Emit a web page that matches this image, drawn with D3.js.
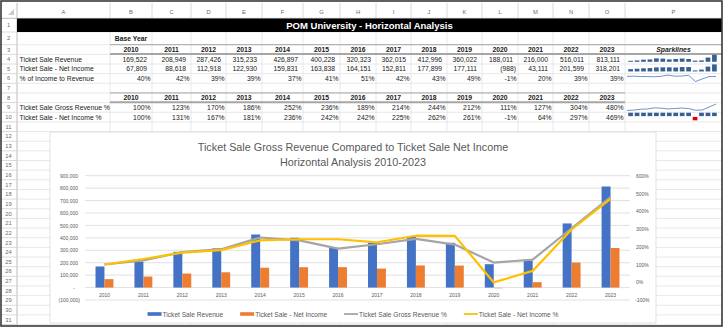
<!DOCTYPE html>
<html><head><meta charset="utf-8">
<script src="https://cdn.jsdelivr.net/npm/d3@7"></script>
<style>
html,body{margin:0;padding:0;background:#fff;}
svg{display:block;font-family:"Liberation Sans",Arial,sans-serif;}
</style></head><body>
<svg id="c" width="724" height="329"></svg>
<script>
// ---------------- DATA ----------------
const years = [2010,2011,2012,2013,2014,2015,2016,2017,2018,2019,2020,2021,2022,2023];
const revenue = [169522,208949,287426,315233,426897,400228,320323,362015,412996,360022,188011,216000,516011,813111];
const netIncome = [67809,88618,112918,122930,159831,163838,164151,152811,177899,177111,-988,43111,201599,318201];
const incomeToRevenuePct = [40,42,39,39,37,41,51,42,43,49,-1,20,39,39];
const grossRevenuePct = [100,123,170,186,252,236,189,214,244,212,111,127,304,480];
const netIncomePct = [100,131,167,181,236,242,242,225,262,261,-1,64,297,469];
const leftTicks = [-100000,0,100000,200000,300000,400000,500000,600000,700000,800000,900000];
const rightTicks = [-100,0,100,200,300,400,500,600];
const columnLetters = ["A","B","C","D","E","F","G","H","I","J","K","L","M","N","O","P"];
const rowLabels = ["Ticket Sale Revenue","Ticket Sale - Net Income","% of Income to Revenue","Ticket Sale Gross Revenue %","Ticket Sale - Net Income %"];
const sheetTitle = "POM University - Horizontal Analysis";
const baseYearLabel = "Base Year";
const sparkHeader = "Sparklines";
const chartTitle = ["Ticket Sale Gross Revenue Compared to Ticket Sale Net Income","Horizontal Analysis 2010-2023"];
const seriesNames = ["Ticket Sale Revenue","Ticket Sale - Net Income","Ticket Sale Gross Revenue %","Ticket Sale - Net Income %"];

// ---------------- LAYOUT ----------------
const W = 724, H = 329;
const svg = d3.select("#c");
svg.append("rect").attr("width", W).attr("height", H).attr("fill", "#fff");

const colEdges = [17,110,152,191,226,262,303,340,376,411,447,482,518,553,589,625,722];
const rowTop = r => r === 1 ? 18.5 : r === 2 ? 32 : 44.7 + (r - 3) * 9.65;
const rowMid = r => (rowTop(r) + rowTop(r + 1)) / 2;
const colL = i => colEdges[i], colR = i => colEdges[i + 1], colMid = i => (colEdges[i] + colEdges[i + 1]) / 2;

// sheet grid
const grid = svg.append("g").attr("stroke", "#e2e2e2").attr("stroke-width", 0.8);
for (let r = 2; r <= 32; r++) {
  grid.append("line").attr("x1", 17).attr("x2", 722).attr("y1", rowTop(r)).attr("y2", rowTop(r));
}
colEdges.slice(1).forEach(x => grid.append("line").attr("x1", x).attr("x2", x).attr("y1", 32).attr("y2", 326));

// headers
const hdr = svg.append("g");
hdr.append("line").attr("x1", 0).attr("x2", 722).attr("y1", 18.3).attr("y2", 18.3).attr("stroke", "#bdbdbd");
hdr.append("line").attr("x1", 17).attr("x2", 17).attr("y1", 3).attr("y2", 326).attr("stroke", "#bdbdbd");
colEdges.slice(1).forEach(x => hdr.append("line").attr("x1", x).attr("x2", x).attr("y1", 3).attr("y2", 18).attr("stroke", "#dadada"));
for (let r = 2; r <= 32; r++) hdr.append("line").attr("x1", 0).attr("x2", 17).attr("y1", rowTop(r)).attr("y2", rowTop(r)).attr("stroke", "#dadada");
hdr.append("path").attr("d", "M14,9 L14,15 L8,15 Z").attr("fill", "#c8c8c8");
hdr.selectAll("text.col").data(columnLetters).join("text")
  .attr("x", (d, i) => colMid(i)).attr("y", 11.5).attr("text-anchor", "middle").attr("dominant-baseline", "central")
  .attr("font-size", 5.8).attr("fill", "#6b6b6b").text(d => d);
hdr.selectAll("text.row").data(d3.range(1, 32)).join("text")
  .attr("x", 8.5).attr("y", d => d === 1 ? 25.3 : rowMid(d)).attr("text-anchor", "middle").attr("dominant-baseline", "central")
  .attr("font-size", 5.8).attr("fill", "#6b6b6b").text(d => d);

// title bar
svg.append("rect").attr("x", 17).attr("y", 18.5).attr("width", 705).attr("height", 13.5).attr("fill", "#000");
svg.append("text").attr("x", (17 + 722) / 2).attr("y", 25.6).attr("text-anchor", "middle").attr("dominant-baseline", "central")
  .attr("font-size", 9.5).attr("font-weight", "bold").attr("fill", "#fff").text(sheetTitle);

// header borders
const bord = svg.append("g").attr("stroke", "#a6a6a6");
bord.append("line").attr("x1", 110).attr("x2", 722).attr("y1", rowTop(3)).attr("y2", rowTop(3)).attr("stroke-width", 1);
bord.append("line").attr("x1", 110).attr("x2", 722).attr("y1", rowTop(4) - 0.3).attr("y2", rowTop(4) - 0.3).attr("stroke-width", 2);
bord.append("line").attr("x1", 110).attr("x2", 625).attr("y1", rowTop(8)).attr("y2", rowTop(8)).attr("stroke-width", 1);
bord.append("line").attr("x1", 110).attr("x2", 625).attr("y1", rowTop(9) - 0.3).attr("y2", rowTop(9) - 0.3).attr("stroke-width", 2);

// table text
const fs = 6.8;
const tbl = svg.append("g").attr("font-size", fs).attr("fill", "#1a1a1a").attr("dominant-baseline", "central");
tbl.append("text").attr("x", colMid(1)).attr("y", rowMid(2)).attr("text-anchor", "middle").attr("font-weight", "bold").text(baseYearLabel);
[3, 8].forEach(r => {
  tbl.selectAll(null).data(years).join("text")
    .attr("x", (d, i) => colMid(i + 1)).attr("y", rowMid(r)).attr("text-anchor", "middle").attr("font-weight", "bold").text(d => d);
});
tbl.append("text").attr("x", colMid(15)).attr("y", rowMid(3)).attr("text-anchor", "middle").attr("font-weight", "bold").attr("font-style", "italic").text(sparkHeader);
[[4, 0], [5, 1], [6, 2], [9, 3], [10, 4]].forEach(([r, k]) =>
  tbl.append("text").attr("x", 19.5).attr("y", rowMid(r)).text(rowLabels[k]));
const acc = v => v < 0 ? "(" + d3.format(",")(-v) + ")" : d3.format(",")(v);
[[4, revenue], [5, netIncome]].forEach(([r, arr]) => {
  tbl.selectAll(null).data(arr).join("text")
    .attr("x", (d, i) => colR(i + 1) - (d < 0 ? 2 : 5)).attr("y", rowMid(r)).attr("text-anchor", "end").text(acc);
});
[[6, incomeToRevenuePct], [9, grossRevenuePct], [10, netIncomePct]].forEach(([r, arr]) => {
  tbl.selectAll(null).data(arr).join("text")
    .attr("x", (d, i) => colR(i + 1) - 1.5).attr("y", rowMid(r)).attr("text-anchor", "end").text(d => d + "%");
});

// sparklines
const spark = svg.append("g");
const sparkColor = "#376092";
const sbx = d3.scaleBand().domain(years).range([626.5, 718.5]).padding(0.27);
const spx = d3.scalePoint().domain(years).range([627, 716]);
[[4, revenue], [5, netIncome]].forEach(([r, arr]) => {
  const bottom = rowTop(r + 1) - 2.2;
  const hs = d3.scaleLinear().domain(d3.extent(arr)).range([1, rowTop(r + 1) - rowTop(r) - 2.6]);
  spark.selectAll(null).data(arr).join("rect")
    .attr("x", (d, i) => sbx(years[i])).attr("width", sbx.bandwidth())
    .attr("y", d => bottom - hs(d)).attr("height", d => hs(d)).attr("fill", sparkColor);
});
[[6, incomeToRevenuePct], [9, grossRevenuePct]].forEach(([r, arr]) => {
  const ly = d3.scaleLinear().domain(d3.extent(arr)).range([rowTop(r + 1) - 1.8, rowTop(r) + 1.4]);
  spark.append("path").datum(arr)
    .attr("d", d3.line().x((d, i) => spx(years[i])).y(d => ly(d)))
    .attr("fill", "none").attr("stroke", "#4a78b8").attr("stroke-width", 0.8);
});
{
  const r = 10;
  const wl = d3.scaleLinear().domain([-1, 1]).range([rowTop(r + 1) - 1.6, rowTop(r) + 0.5]);
  spark.selectAll(null).data(netIncomePct).join("rect")
    .attr("x", (d, i) => sbx(years[i])).attr("width", sbx.bandwidth())
    .attr("y", d => Math.min(wl(Math.sign(d)), wl(0)) + (d < 0 ? 0.4 : 0))
    .attr("height", d => Math.abs(wl(Math.sign(d)) - wl(0)) - 0.4)
    .attr("fill", d => d < 0 ? "#e00000" : sparkColor);
}

// ---------------- CHART ----------------
const ch = { x: 50, y: 132, w: 606, h: 191 };
svg.append("rect").attr("x", ch.x).attr("y", ch.y).attr("width", ch.w).attr("height", ch.h)
  .attr("fill", "#fff").attr("stroke", "#d9d9d9").attr("stroke-width", 0.8);
const cx = ch.x + ch.w / 2;
svg.selectAll("text.ct").data(chartTitle).join("text")
  .attr("x", cx).attr("y", (d, i) => 146.5 + i * 15).attr("text-anchor", "middle").attr("dominant-baseline", "central")
  .attr("font-size", 10.8).attr("fill", "#595959").text(d => d);

const plot = { l: 85, r: 630, t: 175.7, b: 300 };
const x0 = d3.scaleBand().domain(years).range([plot.l, plot.r]).paddingInner(0.54).paddingOuter(0.27);
const x1 = d3.scaleBand().domain(["rev", "net"]).range([0, x0.bandwidth()]);
const yL = d3.scaleLinear().domain([-100000, 900000]).range([plot.b, plot.t]);
const yR = d3.scaleLinear().domain([-100, 600]).range([plot.b, plot.t]);

svg.append("g").selectAll("line").data(leftTicks).join("line")
  .attr("x1", plot.l).attr("x2", plot.r).attr("y1", d => yL(d)).attr("y2", d => yL(d))
  .attr("stroke", "#d9d9d9").attr("stroke-width", 0.8);

const axL = svg.append("g").attr("transform", `translate(78,0)`)
  .call(d3.axisLeft(yL).tickValues(leftTicks).tickSize(0).tickPadding(0)
    .tickFormat(d => d === 0 ? "-" : d < 0 ? "(" + d3.format(",")(-d) + ")" : d3.format(",")(d)));
axL.select(".domain").remove();
axL.selectAll("text").attr("font-size", 5).attr("fill", "#595959").attr("font-family", "Liberation Sans, Arial, sans-serif")
  .attr("dx", d => d < 0 ? 2 : d === 0 ? -3 : 0);

const axR = svg.append("g").attr("transform", `translate(636,0)`)
  .call(d3.axisRight(yR).tickValues(rightTicks).tickSize(0).tickPadding(0).tickFormat(d => d + "%"));
axR.select(".domain").remove();
axR.selectAll("text").attr("font-size", 5).attr("fill", "#595959").attr("font-family", "Liberation Sans, Arial, sans-serif")
  .attr("dx", d => d < 0 ? -1 : 0);

const axB = svg.append("g").attr("transform", `translate(0,${yL(0)})`)
  .call(d3.axisBottom(x0).tickSize(0).tickPadding(6.3));
axB.select(".domain").remove();
axB.selectAll("text").attr("font-size", 5).attr("fill", "#595959").attr("font-family", "Liberation Sans, Arial, sans-serif");

const colors = ["#4472c4", "#ed7d31", "#a5a5a5", "#ffc000"];
const barG = svg.append("g");
[["rev", revenue, colors[0]], ["net", netIncome, colors[1]]].forEach(([k, arr, c]) => {
  barG.selectAll(null).data(arr).join("rect")
    .attr("x", (d, i) => x0(years[i]) + x1(k)).attr("width", x1.bandwidth())
    .attr("y", d => Math.min(yL(d), yL(0)))
    .attr("height", d => Math.max(Math.abs(yL(d) - yL(0)), 1.2))
    .attr("fill", c).attr("fill-opacity", d => d < 0 ? 0.35 : 1);
});
const lineGen = d3.line().x((d, i) => x0(years[i]) + x0.bandwidth() / 2).y(d => yR(d));
svg.append("path").datum(grossRevenuePct).attr("d", lineGen).attr("fill", "none")
  .attr("stroke", colors[2]).attr("stroke-width", 2.2).attr("stroke-linejoin", "round");
svg.append("path").datum(netIncomePct).attr("d", lineGen).attr("fill", "none")
  .attr("stroke", colors[3]).attr("stroke-width", 2.2).attr("stroke-linejoin", "round");

// legend
const lg = svg.append("g");
const items = seriesNames.map((n, i) => {
  const g = lg.append("g");
  if (i < 2) g.append("rect").attr("x", 0).attr("y", -1.8).attr("width", 14).attr("height", 3.6).attr("fill", colors[i]);
  else g.append("line").attr("x1", 0).attr("x2", 14).attr("y1", 0).attr("y2", 0).attr("stroke", colors[i]).attr("stroke-width", 1.8);
  const t = g.append("text").attr("x", 15).attr("y", 0).attr("dominant-baseline", "central")
    .attr("font-size", 6.6).attr("fill", "#595959").text(n);
  return { g, w: 15 + t.node().getComputedTextLength() };
});
const gap = 17;
const total = d3.sum(items, d => d.w) + gap * (items.length - 1);
let lx = cx - total / 2;
items.forEach(it => { it.g.attr("transform", `translate(${lx},314)`); lx += it.w + gap; });

// outer frame
svg.append("rect").attr("x", 1).attr("y", 1).attr("width", 721).attr("height", 325)
  .attr("fill", "none").attr("stroke", "#3a3a3a").attr("stroke-width", 1.6);
</script>
</body></html>
